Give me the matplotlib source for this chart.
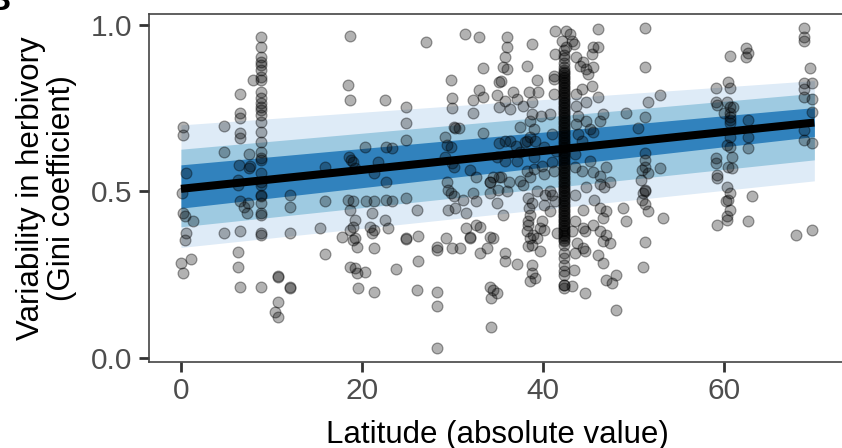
import numpy as np
import matplotlib
matplotlib.use("Agg")
import matplotlib.pyplot as plt

plt.rcParams['font.family'] = ['Liberation Sans', 'DejaVu Sans']

# ---------------- data ----------------
# fitted line and credible bands (ends of the fit)
fit_lat = [0, 70]
fit_mid = [0.508, 0.707]
band50_lo = [0.450, 0.665]
band50_hi = [0.580, 0.752]
band80_lo = [0.394, 0.595]
band80_hi = [0.627, 0.795]
band95_lo = [0.332, 0.532]
band95_hi = [0.700, 0.833]

# observations, low latitudes (0-17.5)
lat_low = [0.26, 0.26, 0.6, 0.07, 0.26, 0.4, 1.3, 0.6, 0.4, 0.0, 1.07, 0.2,
           4.75, 4.75, 4.75,
           6.5, 6.5, 6.5, 6.5, 6.5, 6.4, 6.3, 6.3, 6.5, 6.5, 6.3, 6.3, 6.5,
           7.55, 7.55, 7.6, 7.4, 7.3, 7.0, 8.0,
           10.75, 10.75, 10.75, 10.4, 10.75,
           12.0, 12.0, 12.0, 12.0, 12.0,
           15.9, 15.9, 15.4, 15.9]
gini_low = [0.695, 0.67, 0.555, 0.496, 0.434, 0.426, 0.412, 0.374, 0.354, 0.284, 0.296, 0.256,
            0.697, 0.62, 0.376,
            0.792, 0.735, 0.72, 0.677, 0.66, 0.58, 0.535, 0.52, 0.47, 0.382, 0.319, 0.274, 0.212,
            0.613, 0.57, 0.578, 0.465, 0.434, 0.454, 0.835,
            0.246, 0.243, 0.169, 0.139, 0.124,
            0.49, 0.454, 0.374, 0.214, 0.211,
            0.575, 0.47, 0.39, 0.312]

# site at ~8.8 degrees (many plots)
site9_lat = 8.8
site9_gini = [0.965, 0.935, 0.905, 0.89, 0.88, 0.865, 0.845, 0.835, 0.80, 0.78, 0.765,
              0.755, 0.745, 0.73, 0.71, 0.68, 0.65, 0.62, 0.60, 0.595, 0.555, 0.53,
              0.52, 0.49, 0.485, 0.465, 0.434, 0.43, 0.374, 0.37, 0.212]

# mid latitudes (17.5-35)
lat_mid = [17.75, 18.5, 18.7, 18.7, 18.6, 18.8, 19.0, 19.2,
           18.5, 19.0, 18.7, 19.2, 19.0, 18.7, 19.2, 19.0, 19.4, 18.7, 19.2, 19.4, 19.6, 20.3, 21.3,
           20.3, 20.5, 21.3, 21.1, 20.9, 21.1, 21.3, 21.3,
           21.8, 21.3, 22.7, 23.3, 22.7, 22.7, 23.3, 22.5, 22.9, 22.6, 23.8,
           24.9, 24.9, 24.9, 24.9, 24.9, 24.9,
           26.2, 26.1, 26.2, 26.1, 27.1,
           28.3, 28.3, 28.3, 28.3, 28.3,
           29.3, 29.9, 30.8,
           29.8, 29.9, 30.0, 30.2, 30.3, 30.7, 29.2, 29.4, 29.8, 29.2, 30.0, 30.2, 29.4, 29.5,
           29.8, 30.2, 30.3, 29.5, 31.5, 31.2,
           31.4, 32.9, 33.4, 32.3, 32.9, 33.4, 32.3, 33.4, 31.9, 32.6, 32.3, 32.6, 31.5, 31.9,
           31.9, 32.6, 33.1, 33.0, 33.8, 34.1, 34.5, 34.1, 34.5, 34.3, 34.9, 34.3,
           35.1, 34.9, 35.2, 35.2, 34.9, 34.5, 35.2, 34.1, 34.1, 35.0, 34.1, 34.9]
gini_mid = [0.362, 0.82, 0.775, 0.967, 0.605, 0.595, 0.59, 0.57,
            0.474, 0.47, 0.444, 0.414, 0.394, 0.384, 0.36, 0.354, 0.334, 0.274, 0.27, 0.254, 0.209, 0.259, 0.199,
            0.635, 0.47, 0.47, 0.434, 0.394, 0.374, 0.33, 0.384,
            0.59, 0.555, 0.635, 0.632, 0.53, 0.474, 0.47, 0.414, 0.39, 0.776, 0.266,
            0.755, 0.705, 0.655, 0.479, 0.359, 0.357,
            0.366, 0.444, 0.29, 0.203, 0.95,
            0.334, 0.324, 0.199, 0.156, 0.031,
            0.36, 0.33, 0.33,
            0.835, 0.78, 0.75, 0.695, 0.69, 0.69, 0.664, 0.64, 0.635, 0.605, 0.585, 0.575, 0.53, 0.505,
            0.495, 0.485, 0.449, 0.444, 0.434, 0.474,
            0.973, 0.965, 0.872, 0.775, 0.805, 0.785, 0.735, 0.675, 0.565, 0.545, 0.495, 0.47, 0.39, 0.362,
            0.36, 0.399, 0.394, 0.314, 0.33, 0.364, 0.359, 0.214, 0.204, 0.179, 0.194, 0.092,
            0.83, 0.79, 0.755, 0.645, 0.605, 0.545, 0.545, 0.53, 0.53, 0.505, 0.495, 0.465]

# dense region (35-48.5)
lat_dense = [36.0, 36.0, 35.8, 35.6, 36.0, 35.4, 36.7, 35.8, 37.1, 37.8, 36.4, 38.2, 38.8, 39.3,
             38.5, 39.5, 38.8, 38.8, 38.6, 39.0, 37.5, 35.8, 36.4, 38.6, 38.2, 39.1, 39.8, 40.8,
             41.0, 41.2, 41.2, 41.2, 41.3, 41.3,
             42.5, 43.0, 43.2, 42.1, 42.6, 43.4,
             43.7, 44.1, 44.8, 44.4, 45.0, 45.5, 45.4, 45.5, 46.1, 46.1, 45.4, 44.3, 43.7, 44.8,
             46.1, 43.7, 43.9, 43.7, 44.8, 46.3, 46.6, 45.5, 44.3, 43.9, 41.5, 40.1, 39.0, 38.0,
             37.5, 37.0, 35.8, 35.4, 37.1, 38.2, 39.0, 39.9, 41.0, 41.2, 40.1, 38.6, 37.5, 36.2,
             43.5, 44.3, 45.2, 45.5, 46.3, 47.0, 43.5, 45.2, 47.4, 46.3,
             35.6, 35.8, 35.8, 37.1, 38.3, 38.6, 38.2, 38.6, 38.3, 38.8, 39.7, 39.7, 40.1, 39.9,
             40.8, 38.8, 38.8, 38.6, 39.1, 41.6, 41.0, 40.2, 37.8, 43.5, 43.5, 43.2, 43.8, 43.5,
             44.4, 44.6, 44.4, 44.4, 44.6, 43.4, 43.2, 44.6, 45.5, 45.7, 46.3, 47.0, 46.6, 46.3,
             47.0, 46.6, 47.4, 46.1, 46.6, 47.0, 47.6, 48.1, 48.1, 44.8, 46.8,
             36.0, 39.3, 38.8, 40.1, 40.8, 41.3, 38.5, 38.3, 38.9, 39.3, 38.4]
gini_dense = [0.963, 0.933, 0.903, 0.873, 0.868, 0.833, 0.798, 0.773, 0.778, 0.758, 0.748, 0.878, 0.943, 0.835,
              0.798, 0.798, 0.768, 0.733, 0.713, 0.688, 0.693, 0.653, 0.653, 0.663, 0.653, 0.653, 0.728, 0.733,
              0.673, 0.793, 0.838, 0.848, 0.913, 0.981,
              0.983, 0.973, 0.953, 0.953, 0.933, 0.943,
              0.903, 0.878, 0.868, 0.888, 0.853, 0.873, 0.913, 0.933, 0.933, 0.988, 0.818, 0.808, 0.793, 0.768,
              0.783, 0.758, 0.728, 0.703, 0.713, 0.713, 0.733, 0.678, 0.653, 0.673, 0.623, 0.633, 0.603, 0.648,
              0.618, 0.638, 0.593, 0.543, 0.593, 0.563, 0.568, 0.578, 0.588, 0.563, 0.553, 0.543, 0.533, 0.528,
              0.573, 0.563, 0.593, 0.558, 0.548, 0.573, 0.613, 0.688, 0.528, 0.523,
              0.43, 0.315, 0.29, 0.282, 0.48, 0.43, 0.38, 0.36, 0.335, 0.34, 0.32, 0.39, 0.385, 0.41,
              0.44, 0.28, 0.255, 0.23, 0.24, 0.375, 0.49, 0.49, 0.52, 0.49, 0.41, 0.38, 0.345, 0.315,
              0.33, 0.32, 0.445, 0.39, 0.38, 0.265, 0.215, 0.195, 0.40, 0.475, 0.45, 0.44, 0.42, 0.38,
              0.37, 0.35, 0.345, 0.31, 0.285, 0.235, 0.225, 0.25, 0.145, 0.515, 0.515,
              0.50, 0.50, 0.465, 0.46, 0.50, 0.47, 0.45, 0.41, 0.37, 0.36, 0.40]

# site at ~42.3 degrees (very many plots)
site42_lat = 42.35
site42_gini = [0.925, 0.91, 0.90, 0.885, 0.875, 0.865, 0.86, 0.855, 0.85, 0.845, 0.84, 0.835,
               0.83, 0.825, 0.82, 0.815, 0.81, 0.805, 0.80, 0.795, 0.79, 0.785, 0.78, 0.775,
               0.77, 0.765, 0.76, 0.755, 0.75, 0.745, 0.74, 0.735, 0.73, 0.725, 0.72, 0.715,
               0.71, 0.705, 0.70, 0.695, 0.69, 0.685, 0.68, 0.675, 0.67, 0.665, 0.66, 0.655,
               0.65, 0.645, 0.64, 0.635, 0.63, 0.625, 0.62, 0.615, 0.61, 0.605, 0.60, 0.595,
               0.59, 0.585, 0.58, 0.575, 0.57, 0.565, 0.56, 0.555, 0.55, 0.545, 0.54, 0.535,
               0.53, 0.525, 0.52, 0.515, 0.51, 0.505, 0.50, 0.495, 0.49, 0.485, 0.48, 0.475,
               0.47, 0.465, 0.46, 0.455, 0.45, 0.445, 0.44, 0.435, 0.43, 0.425, 0.42, 0.415,
               0.41, 0.405, 0.40, 0.395, 0.39, 0.385, 0.38, 0.375, 0.37, 0.365, 0.36, 0.355,
               0.35, 0.34, 0.315, 0.30, 0.28, 0.26, 0.25, 0.22, 0.22, 0.21]

# high latitudes (48.5-70)
lat_high = [48.9, 49.2, 51.3, 51.3, 51.6, 52.9, 50.5, 51.3, 49.2, 51.3, 51.3, 51.3, 51.0, 51.6,
            52.9, 50.8, 51.3, 51.3, 51.1, 50.9, 51.3, 51.6, 53.3, 51.3, 51.1,
            60.7, 62.4, 62.7, 62.4, 60.5, 60.7, 59.1, 59.1, 59.2, 60.3, 60.7, 61.0, 60.0, 60.7,
            60.7, 60.7, 60.7, 62.7, 62.7, 60.7, 60.3, 60.7, 62.7, 60.9, 59.1, 59.1, 60.5, 60.9,
            59.2, 59.2, 60.3, 60.7, 60.5, 60.2, 60.7, 60.3, 59.2, 60.3, 63.1, 62.7,
            68.9, 68.9, 68.9, 69.5, 68.9, 69.7, 68.9, 68.9, 69.7, 69.7, 68.9, 68.9, 69.7, 68.0, 69.7]
gini_high = [0.45, 0.41, 0.99, 0.873, 0.77, 0.79, 0.69, 0.725, 0.735, 0.615, 0.595, 0.575, 0.565, 0.555,
             0.57, 0.535, 0.505, 0.50, 0.495, 0.475, 0.462, 0.44, 0.419, 0.349, 0.274,
             0.907, 0.93, 0.917, 0.905, 0.83, 0.812, 0.81, 0.77, 0.76, 0.77, 0.755, 0.755, 0.735, 0.735,
             0.725, 0.715, 0.705, 0.715, 0.665, 0.665, 0.64, 0.635, 0.632, 0.605, 0.60, 0.585, 0.575, 0.57,
             0.55, 0.54, 0.515, 0.495, 0.475, 0.47, 0.445, 0.425, 0.40, 0.415, 0.486, 0.41,
             0.99, 0.965, 0.953, 0.87, 0.825, 0.825, 0.807, 0.785, 0.777, 0.74, 0.685, 0.655, 0.647, 0.37, 0.385]

x_ticks = [0, 20, 40, 60]
y_ticks = [0.0, 0.5, 1.0]
y_tick_labels = ['0.0', '0.5', '1.0']

# ---------------- assemble ----------------
lat_all = np.concatenate([lat_low, np.full(len(site9_gini), site9_lat), lat_mid, lat_dense,
                          np.full(len(site42_gini), site42_lat), lat_high])
gini_all = np.concatenate([gini_low, site9_gini, gini_mid, gini_dense, site42_gini, gini_high])

W, H = 842, 448
fig = plt.figure(figsize=(W / 100, H / 100), dpi=100)
ax_l, ax_r, ax_t, ax_b = 149.3, 846.0, 14.0, 361.5
ax = fig.add_axes([ax_l / W, (H - ax_b) / H, (ax_r - ax_l) / W, (ax_b - ax_t) / H])

ax.fill_between(fit_lat, band95_lo, band95_hi, color='#DEEBF7', lw=0, zorder=1)
ax.fill_between(fit_lat, band80_lo, band80_hi, color='#9ECAE1', lw=0, zorder=2)
ax.fill_between(fit_lat, band50_lo, band50_hi, color='#3182BD', lw=0, zorder=3)
ax.plot(fit_lat, fit_mid, color='black', lw=5.8, solid_capstyle='butt', zorder=4)

ax.scatter(lat_all, gini_all, s=60, facecolor=(0, 0, 0, 0.3), edgecolor=(0, 0, 0, 0.38),
           linewidths=0.9, zorder=5)

ax.set_xlim(-3.5, 73.5)
ax.set_ylim(-0.0105, 1.033)
ax.set_xticks(x_ticks)
ax.set_xticklabels([str(t) for t in x_ticks])
ax.set_yticks(y_ticks)
ax.set_yticklabels(y_tick_labels)

for s in ax.spines.values():
    s.set_color('#444444')
    s.set_linewidth(1.2)
ax.tick_params(axis='both', direction='out', length=7, width=2, color='#333333',
               labelsize=21.5, labelcolor='#4D4D4D', pad=4)
ax.tick_params(axis='y', pad=5)

fig.text(46.5 / W, 1 - 187.75 / H, 'Variability in herbivory\n(Gini coefficient)',
         rotation=90, ha='center', va='center', multialignment='center',
         fontsize=22.5, linespacing=1.05, color='black')
fig.text((ax_l + ax_r) / 2 / W, 5 / H, 'Latitude (absolute value)',
         ha='center', va='baseline', fontsize=22.5, color='black')
fig.text(11 / W, 1 - 10 / H, 'B', ha='right', va='baseline', fontsize=24,
         fontweight='bold', color='black')

fig.savefig('out.png', dpi=100)
